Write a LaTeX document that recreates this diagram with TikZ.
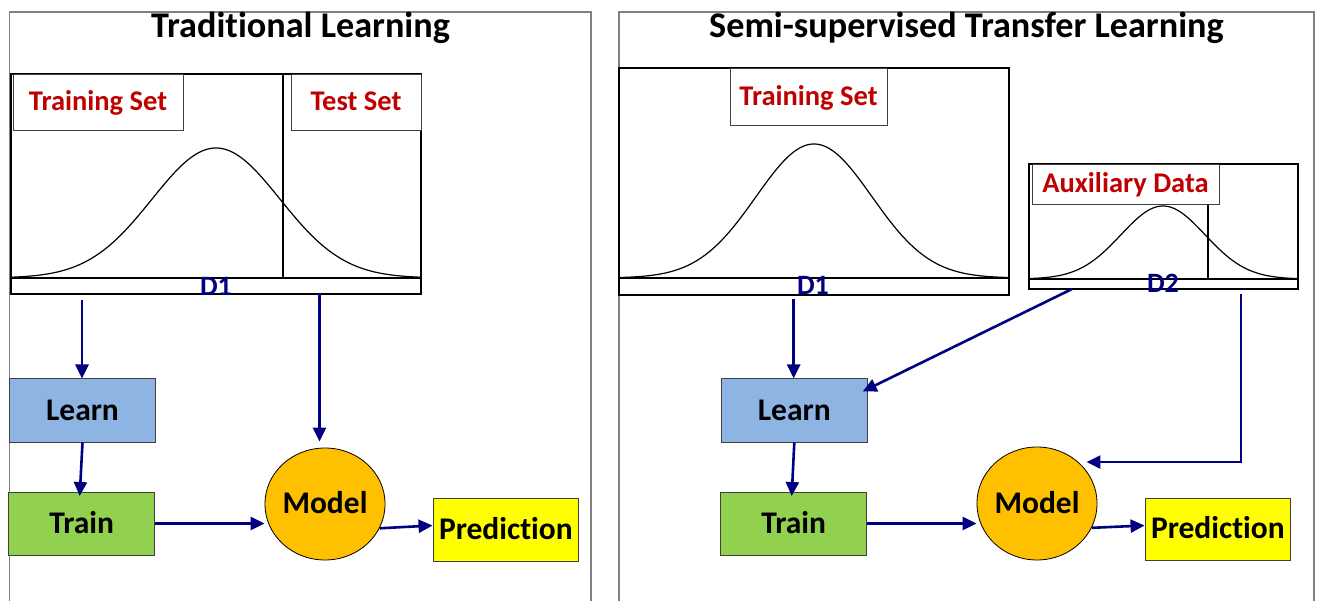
\documentclass[tikz,border=0pt]{standalone}
\usepackage{fontspec}
\setmainfont[Ligatures={NoCommon,NoContextual},Contextuals=NoAlternate]{Carlito}
\usetikzlibrary{arrows.meta,shapes.geometric}
\definecolor{navyarrow}{HTML}{000080}
\definecolor{labelred}{HTML}{C00000}
\definecolor{learnblue}{HTML}{8EB4E3}
\definecolor{traingreen}{HTML}{92D050}
\definecolor{modelorange}{HTML}{FFC000}
\definecolor{predyellow}{HTML}{FFFF00}
\definecolor{panelgray}{HTML}{808080}
\definecolor{edgegray}{HTML}{404040}
\begin{document}
\begin{tikzpicture}[x=1pt,y=-1pt,
  panel/.style={draw=panelgray,line width=1.2pt},
  title/.style={anchor=base,inner sep=0pt,font=\fontsize{36.2}{40}\selectfont\bfseries},
  dbox/.style={draw=black,line width=1.5pt,inner sep=0pt},
  bell/.style={draw=black,line width=1.2pt},
  divider/.style={draw=black,line width=2.6pt},
  setlabel/.style={draw=edgegray,line width=0.9pt,fill=white,inner sep=0pt,text=labelred,
    text height=18pt,text depth=0pt,font=\fontsize{28.5}{30}\selectfont\bfseries},
  dlabel/.style={anchor=base,inner sep=0pt,text=navyarrow,font=\fontsize{28}{30}\selectfont\bfseries},
  stepbox/.style={draw=edgegray,line width=1pt,minimum width=145.7pt,minimum height=63pt,inner sep=0pt,
    text height=19.8pt,text depth=0pt,font=\fontsize{31.5}{34}\selectfont\bfseries},
  modelnode/.style={ellipse,draw=black,line width=0.8pt,fill=modelorange,minimum width=113pt,
    minimum height=112pt,inner sep=0pt,text height=19.8pt,text depth=0pt,font=\fontsize{31.5}{34}\selectfont\bfseries},
  arr/.style={draw=navyarrow,line width=2.6pt,-{Triangle[length=14pt,width=13pt]}},
]
\useasboundingbox (0,0) rectangle (1320,601);

% the two panel frames, open at the bottom
\draw[panel] (9.5,601) -- (9.5,12) -- (591,12) -- (591,601);
\draw[panel] (619,601) -- (619,12) -- (1314,12) -- (1314,601);

% kern keeps the t and i as separate glyphs
\node[title] (titleL) at (300.5,37.7) {Tradit\kern0pt ional Learning};
\node[title] (titleR) at (966.5,37.7) {Semi-supervised Transfer Learning};

% ---- traditional learning: distribution D1 split into training and test parts
\node[dbox,minimum width=410pt,minimum height=220pt] (boxL) at (216,184) {};
\draw[dbox] (11,278) -- (421,278);
\draw[bell] plot[domain=11:421,samples=160] (\x,{278-130*exp(-0.5*((\x-216)/64)*((\x-216)/64))});
\draw[divider] (283,74) -- (283,278);
\node[setlabel,minimum width=170pt,minimum height=56pt] (trainsetL) at (98,102) {Training Set};
\node[setlabel,minimum width=130pt,minimum height=56pt] (testsetL) at (356,102) {Test Set};
\node[dlabel] (dlabelL) at (216,295.5) {D1};

% ---- transfer learning: distribution D1 (training set)
\node[dbox,minimum width=390pt,minimum height=227pt] (boxR) at (814,181.5) {};
\draw[dbox] (619,278) -- (1009,278);
\draw[bell] plot[domain=619:1009,samples=160] (\x,{278-134*exp(-0.5*((\x-814)/58)*((\x-814)/58))});
\node[setlabel,minimum width=157pt,minimum height=57pt] (trainsetR) at (808.5,96.5) {Training Set};
\node[dlabel] (dlabelR) at (813,295) {D1};

% ---- auxiliary distribution D2
\node[dbox,minimum width=269pt,minimum height=125pt] (auxbox) at (1163.5,226.5) {};
\draw[dbox] (1029,279) -- (1298,279);
\draw[bell] plot[domain=1029:1298,samples=140] (\x,{279-73*exp(-0.5*((\x-1163)/42)*((\x-1163)/42))});
\draw[divider] (1208,164) -- (1208,279);
\node[setlabel,minimum width=187pt,minimum height=40pt] (auxlabel) at (1125.5,184) {Auxiliary Data};
\node[dlabel] (dlabelD2) at (1163,293) {D2};

% ---- left pipeline
\node[stepbox,fill=learnblue] (learnL) at (82.5,410.5) {Learn};
\node[stepbox,fill=traingreen] (trainL) at (81.7,523.5) {Train};
\node[modelnode] (modelL) at (325,504) {Model};
\node[stepbox,fill=predyellow] (predL) at (505.9,529.5) {Prediction};

\coordinate (srcL1) at (82,300);
\coordinate (srcL2) at (319.5,293);
\draw[arr] (srcL1) -- (srcL1 |- learnL.north);
\draw[arr] (learnL.south) -- ([xshift=-2pt,yshift=-4.5pt]trainL.north);
\draw[arr,shorten >=6pt] (srcL2) -- (srcL2 |- modelL.north);
\draw[arr] (trainL.east) -- (trainL.east -| modelL.west);
\draw[arr] (modelL.-24) -- ([yshift=4pt]predL.west);

% ---- right pipeline
\node[stepbox,fill=learnblue] (learnR) at (794.3,410.5) {Learn};
\node[stepbox,fill=traingreen] (trainR) at (793.7,523.5) {Train};
\node[modelnode,minimum width=112pt,minimum height=113pt] (modelR) at (1037,503.5) {Model};
\node[stepbox,fill=predyellow,minimum height=62pt] (predR) at (1217.9,529) {Prediction};

\coordinate (srcR1) at (793.7,299);
\coordinate (srcR2) at (1072,289);
\coordinate (srcR3) at (1241,294);
\draw[arr] (srcR1) -- (srcR1 |- learnR.north);
\draw[arr] (srcR2) -- ([xshift=-5pt,yshift=-13pt]learnR.north east);
\draw[arr] (learnR.south) -- ([xshift=-2pt,yshift=-4.5pt]trainR.north);
\draw[arr] (trainR.east) -- (trainR.east -| modelR.west);
\draw[arr] (srcR3) |- ([xshift=8pt]modelR.45);
\draw[arr] (modelR.-24) -- ([yshift=3.5pt]predR.west);
\end{tikzpicture}
\end{document}
